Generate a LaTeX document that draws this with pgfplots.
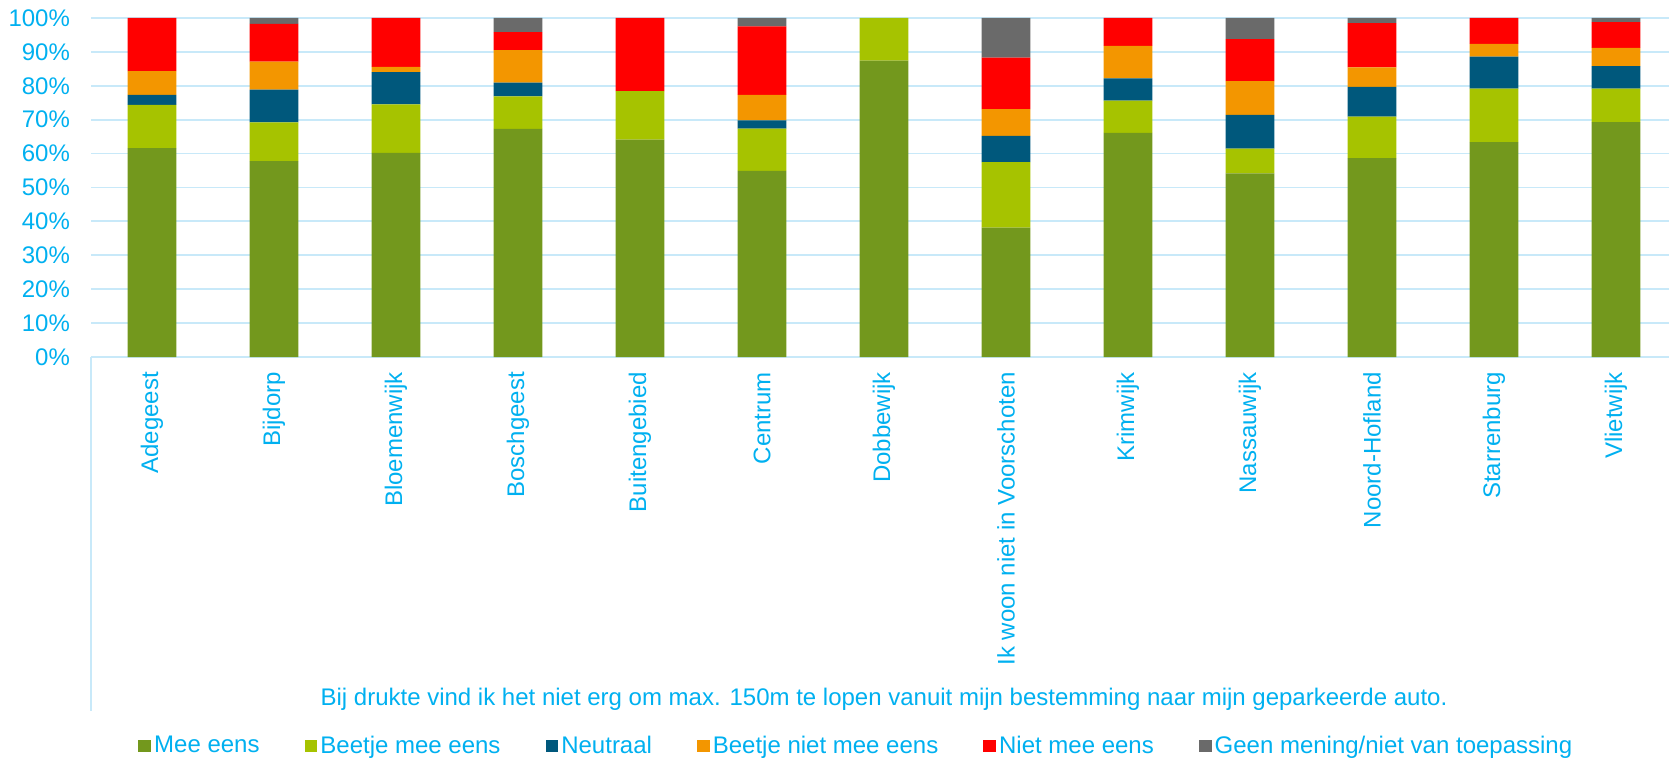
\documentclass[border=0pt]{standalone}
\usepackage{pgfplots}
\usepackage{pgfplotstable}
\pgfplotsset{compat=1.18}
\usepackage{fontspec}
\setmainfont{Liberation Sans}

\definecolor{meeeens}{HTML}{73981D}
\definecolor{beetjemee}{HTML}{A6C300}
\definecolor{neutraal}{HTML}{00587C}
\definecolor{beetjeniet}{HTML}{F39600}
\definecolor{nietmee}{HTML}{FF0000}
\definecolor{geen}{HTML}{6A6A6A}
\definecolor{txtblue}{HTML}{00B0F0}
\definecolor{gridblue}{HTML}{C8E9F9}

% x  mee  beetje  neutraal  bniet  niet  geen
\pgfplotstableread{
x  mee   beetje neutraal bniet niet geen
0  61.6  12.8   2.9      7.0   15.7 0
1  57.8  11.4   9.7      8.2   11.2 1.7
2  60.2  14.3   9.5      1.6   14.4 0
3  67.3  9.6    4.0      9.6   5.3  4.2
4  64.1  14.3   0        0     21.6 0
5  54.9  12.5   2.4      7.5   20.2 2.5
6  87.4  12.6   0        0     0    0
7  38.2  19.3   7.7      7.9   15.2 11.7
8  66.1  9.5    6.6      9.6   8.2  0
9  54.2  7.3    9.9      10.0  12.4 6.2
10 58.7  12.2   8.8      5.7   13.1 1.5
11 63.4  15.8   9.4      3.8   7.6  0
12 69.3  9.9    6.6      5.4   7.6  1.2
}\data

\pgfplotsset{sq/.style={legend image code/.code={\fill[##1] (0pt,-3.2pt) rectangle (6.4pt,3.2pt);}}}

\begin{document}
\begin{tikzpicture}
\begin{axis}[
    scale only axis,
    width=793pt, height=169.5pt,
    ybar stacked, bar width=0.4,
    xmin=-0.5, xmax=12.5, ymin=0, ymax=100,
    enlargelimits=false, clip=false,
    axis lines*=left,
    y axis line style={draw=none},
    x axis line style={gridblue, line width=1pt},
    major tick length=0pt,
    xtick={0,...,12},
    xticklabels={Adegeest,Bijdorp,Bloemenwijk,Boschgeest,Buitengebied,Centrum,Dobbewijk,Ik woon niet in Voorschoten,Krimwijk,Nassauwijk,Noord-Hofland,Starrenburg,Vlietwijk},
    xticklabel style={rotate=90, anchor=east, xshift=-4pt},
    ytick={0,10,...,100},
    yticklabel={\pgfmathprintnumber{\tick}\%},
    yticklabel style={xshift=-7pt},
    /pgf/number format/assume math mode=true,
    tick label style={font=\fontsize{12}{14}\selectfont, text=txtblue},
    ymajorgrids, grid style={gridblue, line width=0.9pt},
    legend columns=6,
    legend style={at={(0,0)}, anchor=west, xshift=23.5pt, yshift=-194.5pt,
        draw=none, fill=none, inner sep=0pt,
        font=\fontsize{12}{14}\selectfont, text=txtblue,
        nodes={inner xsep=1.5pt, inner ysep=0pt},
        /tikz/every even column/.append style={column sep=21pt}},
]
\addplot[sq, fill=meeeens, draw=none] table[x=x, y=mee] {\data};
\addplot[sq, fill=beetjemee, draw=none] table[x=x, y=beetje] {\data};
\addplot[sq, fill=neutraal, draw=none] table[x=x, y=neutraal] {\data};
\addplot[sq, fill=beetjeniet, draw=none] table[x=x, y=bniet] {\data};
\addplot[sq, fill=nietmee, draw=none] table[x=x, y=niet] {\data};
\addplot[sq, fill=geen, draw=none] table[x=x, y=geen] {\data};
\legend{Mee eens,Beetje mee eens,Neutraal,Beetje niet mee eens,Niet mee eens,Geen mening/niet van toepassing}
\draw[gridblue, line width=0.8pt] (rel axis cs:0,0) -- ++(0pt,-177pt);
\node[anchor=base, font=\fontsize{12}{14}\selectfont, text=txtblue] at (rel axis cs:0.5,0) [yshift=-174pt]
    {Bij drukte vind ik het niet erg om max. 150m te lopen vanuit mijn bestemming naar mijn geparkeerde auto.};
\end{axis}
\pgfresetboundingbox
\useasboundingbox (-45.5pt,-201pt) rectangle (789pt,178.5pt);
\end{tikzpicture}
\end{document}
